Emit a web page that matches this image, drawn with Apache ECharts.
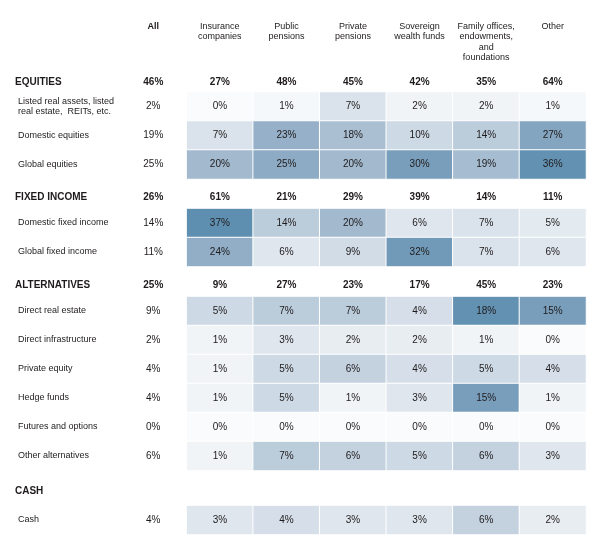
<!DOCTYPE html>
<html>
<head>
<meta charset="utf-8">
<script src="https://cdn.jsdelivr.net/npm/echarts@6/dist/echarts.min.js"></script>
<style>
html,body{margin:0;padding:0;background:#fff;}
#c{width:595px;height:544px;}
</style>
</head>
<body>
<div id="c"></div>
<script>
// ---- data ----
const columns = ['All', 'Insurance\ncompanies', 'Public\npensions', 'Private\npensions',
  'Sovereign\nwealth funds', 'Family offices,\nendowments,\nand\nfoundations', 'Other'];

const sectionNames = ['EQUITIES', 'FIXED INCOME', 'ALTERNATIVES', 'CASH'];
const sectionTotals = [
  [46, 27, 48, 45, 42, 35, 64],
  [26, 61, 21, 29, 39, 14, 11],
  [25, 9, 27, 23, 17, 45, 23],
  [null, null, null, null, null, null, null]
];

const equitiesRows = ['Listed real assets, listed\nreal estate,  REITs, etc.', 'Domestic equities', 'Global equities'];
const equitiesValues = [
  [2, 0, 1, 7, 2, 2, 1],
  [19, 7, 23, 18, 10, 14, 27],
  [25, 20, 25, 20, 30, 19, 36]
];

const fixedIncomeRows = ['Domestic fixed income', 'Global fixed income'];
const fixedIncomeValues = [
  [14, 37, 14, 20, 6, 7, 5],
  [11, 24, 6, 9, 32, 7, 6]
];

const alternativesRows = ['Direct real estate', 'Direct infrastructure', 'Private equity',
  'Hedge funds', 'Futures and options', 'Other alternatives'];
const alternativesValues = [
  [9, 5, 7, 7, 4, 18, 15],
  [2, 1, 3, 2, 2, 1, 0],
  [4, 1, 5, 6, 4, 5, 4],
  [4, 1, 5, 1, 3, 15, 1],
  [0, 0, 0, 0, 0, 0, 0],
  [6, 1, 7, 6, 5, 6, 3]
];

const cashRows = ['Cash'];
const cashValues = [
  [4, 3, 4, 3, 3, 6, 2]
];

// ---- build ----
const sections = [
  { rows: equitiesRows, values: equitiesValues, scale: 0 },
  { rows: fixedIncomeRows, values: fixedIncomeValues, scale: 0 },
  { rows: alternativesRows, values: alternativesValues, scale: 1 },
  { rows: cashRows, values: cashValues, scale: 1 }
];
const scaleMax = [37, 18.5];
const ramp = ['#fafbfc', '#d0dbe6', '#a8bdd1', '#81a3be', '#5f8fb0'];

const FONT = "'Liberation Sans', Arial, sans-serif";
const TXT = '#1f1b1c';
const ROW = 29;
const layout = [
  { h: 82, t: 92 },
  { h: 197, t: 208.5 },
  { h: 285, t: 296.5 },
  { h: 491, t: 505.5 }
];

const grid = [], xAxis = [], yAxis = [], series = [];
const heatIdx = [[], []];

sections.forEach((sec, i) => {
  const gh = grid.length;
  grid.push({ left: 120, right: 9, top: layout[i].h - 10, height: 20 });
  const gi = grid.length;
  grid.push({ left: 120, right: 9, top: layout[i].t, height: ROW * sec.rows.length });

  [gh, gi].forEach(g => {
    const isTop = (g === 0);
    xAxis.push({
      type: 'category', gridIndex: g, data: columns,
      position: 'top',
      show: isTop,
      axisLine: { show: false }, axisTick: { show: false }, splitLine: { show: false },
      axisLabel: {
        show: isTop, interval: 0, margin: 51, verticalAlign: 'top',
        fontFamily: FONT, fontSize: 9, color: TXT, lineHeight: 10.5,
        formatter: v => v === 'All' ? '{b|All}' : v,
        rich: { b: { fontFamily: FONT, fontSize: 9, fontWeight: 'bold', color: TXT, lineHeight: 10.5 } }
      }
    });
  });

  yAxis.push({
    type: 'category', gridIndex: gh, data: [sectionNames[i]], inverse: true,
    axisLine: { show: false }, axisTick: { show: false }, splitLine: { show: false },
    axisLabel: { align: 'left', margin: 105, fontFamily: FONT, fontSize: 10, fontWeight: 'bold', color: TXT }
  });
  yAxis.push({
    type: 'category', gridIndex: gi, data: sec.rows, inverse: true,
    axisLine: { show: false }, axisTick: { show: false }, splitLine: { show: false },
    axisLabel: { align: 'left', margin: 102, fontFamily: FONT, fontSize: 9, color: TXT, lineHeight: 10.5, interval: 0 }
  });

  // header totals (plain white cells)
  const totData = [];
  sectionTotals[i].forEach((v, c) => { if (v !== null) totData.push([c, 0, v]); });
  series.push({
    type: 'heatmap', xAxisIndex: gh, yAxisIndex: gh, data: totData,
    itemStyle: { color: '#ffffff' },
    label: { show: true, formatter: p => p.value[2] + '%',
      fontFamily: FONT, fontSize: 10, fontWeight: 'bold', color: TXT },
    emphasis: { disabled: true }, silent: true
  });

  // "All" column (plain white cells)
  const allData = sec.values.map((r, ri) => [0, ri, r[0]]);
  series.push({
    type: 'heatmap', xAxisIndex: gi, yAxisIndex: gi, data: allData,
    itemStyle: { color: '#ffffff' },
    label: { show: true, formatter: p => p.value[2] + '%',
      fontFamily: FONT, fontSize: 10, color: TXT },
    emphasis: { disabled: true }, silent: true
  });

  // heatmap cells
  const hm = [];
  sec.values.forEach((r, ri) => r.forEach((v, c) => { if (c > 0) hm.push([c, ri, v]); }));
  heatIdx[sec.scale].push(series.length);
  series.push({
    type: 'heatmap', xAxisIndex: gi, yAxisIndex: gi, data: hm,
    itemStyle: { borderColor: '#ffffff', borderWidth: 1 },
    label: { show: true, formatter: p => p.value[2] + '%',
      fontFamily: FONT, fontSize: 10, color: TXT },
    emphasis: { disabled: true }
  });
});

const chart = echarts.init(document.getElementById('c'), null, { renderer: 'canvas' });
chart.setOption({
  backgroundColor: '#ffffff',
  animation: false,
  grid, xAxis, yAxis, series,
  visualMap: scaleMax.map((mx, k) => ({
    type: 'continuous', show: false, min: 0, max: mx, dimension: 2,
    seriesIndex: heatIdx[k],
    inRange: { color: ramp }
  }))
});
</script>
</body>
</html>
